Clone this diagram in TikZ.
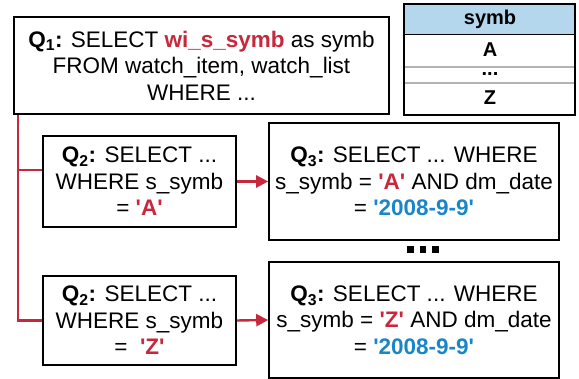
\documentclass[tikz,border=0pt]{standalone}
\usepackage{fontspec}
\setmainfont{Liberation Sans}
\usepackage{tikz}
\usetikzlibrary{calc,arrows.meta}
\definecolor{qred}{HTML}{C8283C}
\definecolor{qblue}{HTML}{1A86C8}
\definecolor{hdrblue}{HTML}{B4D7EE}
\def\sq#1{\textquotesingle#1\textquotesingle}
\def\Q#1{\textbf{Q\textsubscript{#1}:}}
\def\tabfont{\fontsize{20pt}{22pt}\selectfont\bfseries}
\tikzset{
	qbox/.style={draw=black, line width=1.6pt, align=center, inner sep=0pt,
		font=\fontsize{22.5pt}{26.5pt}\selectfont},
	tabcell/.style={inner sep=0pt},
	redline/.style={draw=qred, line width=2.4pt},
	redarrow/.style={redline, -{Triangle[length=12pt, width=12pt]}}
}
\begin{document}
\begin{tikzpicture}[x=1pt, y=1pt]
		%%%%% START %%%%%
		\useasboundingbox (0, 0) rectangle (579, 379);
		
		\node[qbox, minimum width=375, minimum height=97] (q1) at (201.5, 313.5)
			{\Q1 SELECT \textcolor{qred}{\textbf{wi\_s\_symb}} as symb\\ FROM watch\_item, watch\_list\\ WHERE ...};
		
		% result table
		\draw[fill=hdrblue, line width=0.8pt] (404, 345) rectangle (575, 375);
		\draw[line width=1.5pt, color=black!30] (404, 312) -- (575, 312);
		\draw[line width=1.5pt, color=black!30] (404, 296) -- (575, 296);
		\draw[line width=1.6pt] (404, 264) rectangle (575, 375);
		\node[tabcell] (hdr) at (490, 360) {\tabfont symb};
		\node[tabcell] (rowa) at (490, 329) {\tabfont A};
		\node[tabcell] (rowdots) at (490, 305) {\tabfont ...};
		\node[tabcell] (rowz) at (490, 281) {\tabfont Z};
		
		\node[qbox, minimum width=193, minimum height=91] (q2a) at (139.5, 197.5)
			{\Q2 SELECT ...\\ WHERE s\_symb\\ = \textcolor{qred}{\textbf{\sq{A}}}};
		\node[qbox, minimum width=290, minimum height=117] (q3a) at (414, 197.5)
			{\Q3 SELECT ... WHERE\\ s\_symb = \textcolor{qred}{\textbf{\sq{A}}} AND dm\_date\\ = \textcolor{qblue}{\textbf{\sq{2008-9-9}}}};
		
		\node[qbox, minimum width=193, minimum height=89] (q2z) at (139.5, 58.5)
			{\Q2 SELECT ...\\ WHERE s\_symb\\ = \ \textcolor{qred}{\textbf{\sq{Z}}}};
		\node[qbox, minimum width=290, minimum height=116] (q3z) at (414, 59)
			{\Q3 SELECT ... WHERE\\ s\_symb = \textcolor{qred}{\textbf{\sq{Z}}} AND dm\_date\\ = \textcolor{qblue}{\textbf{\sq{2008-9-9}}}};
		
		\foreach \i in {0,1,2}
			\fill (407+12.5*\i, 126) rectangle (413.5+12.5*\i, 132.5);
		
		% red connectors
		\coordinate (trunk) at ($(q1.south west)+(5, 0)$);
		\draw[redline] (trunk) |- (q2z.west);
		\draw[redline] (trunk |- 0, 209) -- (q2a.west |- 0, 209);
		\draw[redarrow] (q2a.east) -- (q3a.west);
		\draw[redarrow] (q2z.east) -- (q3z.west);
		
		%%%%% END %%%%%
	\end{tikzpicture}
\end{document}
